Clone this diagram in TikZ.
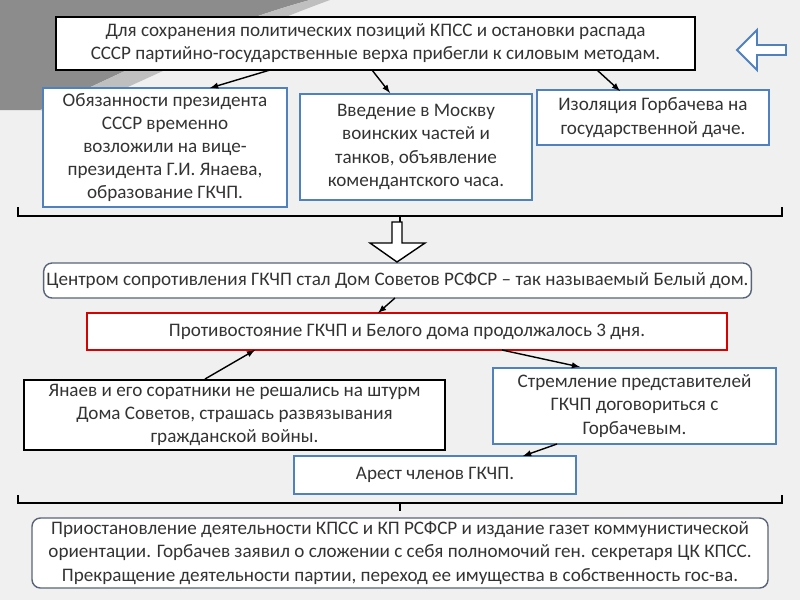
\documentclass[tikz,border=0pt]{standalone}
\usepackage{fontspec}
\setmainfont{Carlito}
\usetikzlibrary{arrows,shapes}
\usetikzlibrary{backgrounds}
\definecolor{boxblue}{RGB}{79,129,189}
\definecolor{bargray}{RGB}{90,100,120}
\newcommand{\px}{0.025cm}
\begin{document}
\begin{tikzpicture}[x=0.025cm,y=-0.025cm]
\tikzstyle{every node}=[fill=white, align=center, inner sep=2pt, font=\fontsize{13.6}{16.5}\selectfont, text=black!80];
\tikzstyle{blk}=[draw=black, line width=1.6pt];
\tikzstyle{blu}=[draw=boxblue, line width=1.4pt];
\tikzstyle{rnd}=[draw=bargray, line width=1pt, rounded corners=6pt];
\tikzstyle{arr}=[-latex, line width=1pt];
\useasboundingbox (0,0) rectangle (800,600);
% background
\fill[black!6] (0,0) rectangle (800,600);
\fill[black!45] (0,0) -- (310,0) .. controls (200,30) and (110,80) .. (40,110) -- (0,110) -- cycle;
\fill[black!25] (40,110) .. controls (110,80) and (200,30) .. (310,0) -- (330,0) .. controls (220,40) and (130,90) .. (60,115) -- cycle;
% boxes
\draw (375.5,43.5) node[blk, minimum width=639*\px, minimum height=53*\px] (top) {Для сохранения политических позиций КПСС и остановки распада\\СССР партийно-государственные верха прибегли к силовым методам.};
\draw (165,147.5) node[blu, minimum width=244*\px, minimum height=119*\px] (duty) {Обязанности президента\\СССР временно\\возложили на вице-\\президента Г.И. Янаева,\\образование ГКЧП.};
\draw (416,147) node[blu, minimum width=232*\px, minimum height=106*\px] (troops) {Введение в Москву\\воинских частей и\\танков, объявление\\комендантского часа.};
\draw (653,117.5) node[blu, minimum width=232*\px, minimum height=55*\px] (isol) {Изоляция Горбачева на\\государственной даче.};
\draw (397.5,280.5) node[rnd, minimum width=695*\px, minimum height=35*\px] (center) {Центром сопротивления ГКЧП стал Дом Советов РСФСР -- так называемый Белый дом.};
\draw (407,331.5) node[draw=red!85!black, line width=1.6pt, minimum width=640*\px, minimum height=37*\px] (stand) {Противостояние ГКЧП и Белого дома продолжалось 3 дня.};
\draw (234.5,415) node[blk, minimum width=421*\px, minimum height=70*\px] (yanaev) {Янаев и его соратники не решались на штурм\\Дома Советов, страшась развязывания\\гражданской войны.};
\draw (634.5,406) node[blu, minimum width=283*\px, minimum height=76*\px] (talks) {Стремление представителей\\ГКЧП договориться с\\Горбачевым.};
\draw (435,475) node[blu, minimum width=282*\px, minimum height=38*\px] (arrest) {Арест членов ГКЧП.};
\draw (400,553) node[rnd, minimum width=736*\px, minimum height=70*\px] (final) {Приостановление деятельности КПСС и КП РСФСР и издание газет коммунистической\\ориентации. Горбачев заявил о сложении с себя полномочий ген. секретаря ЦК КПСС.\\Прекращение деятельности партии, переход ее имущества в собственность гос-ва.};
% arrows
\coordinate (t1) at (270,70); \coordinate (t2) at (372,70); \coordinate (t3) at (597,70);
\draw[arr] (t1) -- (210,88);
\draw[arr] (t2) -- (390,93);
\draw[arr] (t3) -- (620,91);
\draw[arr] (395,298) -- (378,313);
\draw[arr] (205,379) -- (255,350);
\draw[arr] (502,350) -- (580,367);
\draw[arr] (557,444) -- (523,456);
% brackets
\draw[line width=1.3pt] (18,207) -- (18,216) -- (782,216) -- (782,207) (400,216) -- (400,228);
\draw[line width=1.3pt] (18,495) -- (18,503) -- (782,503) -- (782,495) (400,503) -- (400,511);
% hollow arrow
\draw[line width=1pt, fill=white] (392,222) -- (402,222) -- (402,243) -- (425,243) -- (397,262) -- (370,243) -- (392,243) -- cycle;
\draw[boxblue, line width=1.4pt, fill=white] (737,50) -- (757,30) -- (757,45) -- (786,45) -- (786,55) -- (757,55) -- (757,70) -- cycle;
\end{tikzpicture}
\end{document}
